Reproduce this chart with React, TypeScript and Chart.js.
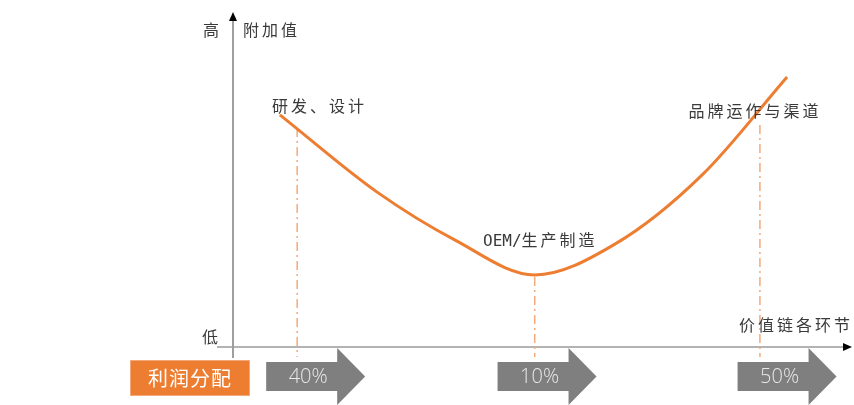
import React, { useEffect, useRef } from "react";
import { Chart, registerables } from "chart.js";

Chart.register(...registerables);

// Smile curve: position along the value chain (0-100) vs value added (0-100)
const curveX = [7.6, 23.3, 36.0, 48.9, 61.9, 76.0, 89.8];
const curveY = [69.3, 46.3, 31.9, 21.5, 30.7, 51.3, 80.6];

// Value-chain stages
const stageNames = ["研发、设计", "OEM/生产制造", "品牌运作与渠道"];
const stageX = [10.4, 48.9, 85.4];
const stageTopY = [65.4, 20.9, 66.3];
const stageLabelX = [14.0, 49.8, 84.6];
const stageLabelY = [71.3, 31.3, 69.9];
const axisBottomY = -3;

// Profit distribution
const profitTitle = "利润分配";
const profitShares = ["40%", "10%", "50%"];
const profitArrowX = [13.4, 50.9, 89.8];

const yAxisHigh = "高";
const yAxisLow = "低";
const yAxisTitle = "附加值";
const xAxisTitle = "价值链各环节";

const CJK_FONT = '"Noto Sans CJK SC", "Noto Sans", sans-serif';

function isWide(ch: string) {
  return /[\u2E80-\uFFFF]/.test(ch);
}

function spacedWidth(ctx: CanvasRenderingContext2D, text: string, extra: number) {
  let w = 0;
  for (const ch of Array.from(text)) w += ctx.measureText(ch).width + (isWide(ch) ? extra : 0);
  return w;
}

function drawSpaced(
  ctx: CanvasRenderingContext2D,
  text: string,
  x: number,
  y: number,
  align: "left" | "center" | "right",
  extra: number
) {
  const w = spacedWidth(ctx, text, extra);
  let cx = align === "left" ? x : align === "center" ? x - w / 2 : x - w;
  ctx.textAlign = "left";
  for (const ch of Array.from(text)) {
    ctx.fillText(ch, cx, y);
    cx += ctx.measureText(ch).width + (isWide(ch) ? extra : 0);
  }
}

const decorPlugin = {
  id: "decor",
  beforeDatasetsDraw(chart: any) {
    const ctx: CanvasRenderingContext2D = chart.ctx;
    const xs = chart.scales.x;
    const ys = chart.scales.y;
    const ca = chart.chartArea;
    const x0 = xs.getPixelForValue(0);
    const y0 = ys.getPixelForValue(0);
    ctx.save();
    // y axis
    ctx.strokeStyle = "#7f7f7f";
    ctx.lineWidth = 1.5;
    ctx.beginPath();
    ctx.moveTo(x0, ca.top + 6);
    ctx.lineTo(x0, y0 + 11);
    ctx.stroke();
    ctx.fillStyle = "#000";
    ctx.beginPath();
    ctx.moveTo(x0, ca.top);
    ctx.lineTo(x0 - 4, ca.top + 9);
    ctx.lineTo(x0 + 4, ca.top + 9);
    ctx.closePath();
    ctx.fill();
    // x axis
    ctx.strokeStyle = "#9a9a9a";
    ctx.beginPath();
    ctx.moveTo(x0 - 16, y0);
    ctx.lineTo(ca.right - 4, y0);
    ctx.stroke();
    ctx.fillStyle = "#000";
    ctx.beginPath();
    ctx.moveTo(ca.right + 2, y0);
    ctx.lineTo(ca.right - 7, y0 - 4);
    ctx.lineTo(ca.right - 7, y0 + 4);
    ctx.closePath();
    ctx.fill();
    ctx.restore();
  },
  afterDatasetsDraw(chart: any) {
    const ctx: CanvasRenderingContext2D = chart.ctx;
    const xs = chart.scales.x;
    const ys = chart.scales.y;
    const ca = chart.chartArea;
    const x0 = xs.getPixelForValue(0);
    const y0 = ys.getPixelForValue(0);
    ctx.save();
    ctx.textBaseline = "middle";
    ctx.fillStyle = "#3a3a3a";
    ctx.font = `16px ${CJK_FONT}`;
    // axis texts
    drawSpaced(ctx, yAxisHigh, x0 - 21, ca.top + 18, "center", 2);
    drawSpaced(ctx, yAxisTitle, x0 + 10, ca.top + 18, "left", 3);
    drawSpaced(ctx, yAxisLow, x0 - 22, y0 - 10, "center", 2);
    drawSpaced(ctx, xAxisTitle, chart.width - 1, y0 - 22, "right", 3);
    // stage labels
    stageNames.forEach((name, i) => {
      const px = xs.getPixelForValue(stageLabelX[i]);
      const py = ys.getPixelForValue(stageLabelY[i]);
      ctx.font = `16px "DejaVu Sans Mono", ${CJK_FONT}`;
      drawSpaced(ctx, name, px, py, "center", 3);
    });
    // profit title box
    const bx = x0 - 103;
    const by = y0 + 13;
    ctx.fillStyle = "#ED7D31";
    ctx.fillRect(bx, by, 120, 36);
    ctx.strokeStyle = "#F4A97A";
    ctx.lineWidth = 1;
    ctx.strokeRect(bx + 0.5, by + 0.5, 119, 35);
    ctx.fillStyle = "#ffffff";
    ctx.font = `20px ${CJK_FONT}`;
    drawSpaced(ctx, profitTitle, bx + 60, by + 18, "center", 1);
    // profit arrows
    profitShares.forEach((share, i) => {
      const cx = xs.getPixelForValue(profitArrowX[i]);
      const left = cx - 49.5;
      ctx.fillStyle = "#7F7F7F";
      ctx.beginPath();
      ctx.moveTo(left, y0 + 15);
      ctx.lineTo(left + 71, y0 + 15);
      ctx.lineTo(left + 71, y0 + 1);
      ctx.lineTo(left + 99, y0 + 29.5);
      ctx.lineTo(left + 71, y0 + 58);
      ctx.lineTo(left + 71, y0 + 44);
      ctx.lineTo(left, y0 + 44);
      ctx.closePath();
      ctx.fill();
      ctx.fillStyle = "#E8E8E8";
      ctx.font = `300 20px "Open Sans", "Noto Sans", sans-serif`;
      ctx.textAlign = "center";
      ctx.fillText(share, left + 42, y0 + 30);
    });
    ctx.restore();
  },
};

export default function App() {
  const ref = useRef<HTMLCanvasElement | null>(null);
  useEffect(() => {
    if (!ref.current) return;
    const curve = curveX.map((x, i) => ({ x, y: curveY[i] }));
    const guides = stageX.map((x, i) => ({
      type: "line" as const,
      data: [
        { x, y: stageTopY[i] },
        { x, y: axisBottomY },
      ],
      borderColor: "#F4A97A",
      borderWidth: 1.5,
      borderDash: [9, 4, 2, 4],
      pointRadius: 0,
      tension: 0,
      clip: false as any,
    }));
    const chart = new Chart(ref.current, {
      type: "line",
      data: {
        datasets: [
          {
            data: curve,
            borderColor: "#ED7D31",
            borderWidth: 3,
            pointRadius: 0,
            cubicInterpolationMode: "monotone",
            clip: false as any,
          },
          ...guides,
        ] as any,
      },
      options: {
        animation: false,
        responsive: true,
        maintainAspectRatio: false,
        layout: { padding: { left: 233, right: 4, top: 12, bottom: 58 } },
        plugins: { legend: { display: false }, tooltip: { enabled: false } },
        scales: {
          x: { type: "linear", min: 0, max: 100, display: false },
          y: { type: "linear", min: 0, max: 100, display: false },
        },
      },
      plugins: [decorPlugin],
    });
    return () => chart.destroy();
  }, []);
  return (
    <div style={{ position: "fixed", left: 0, top: 0, width: 854, height: 405, background: "#fff" }}>
      <canvas ref={ref} />
    </div>
  );
}
